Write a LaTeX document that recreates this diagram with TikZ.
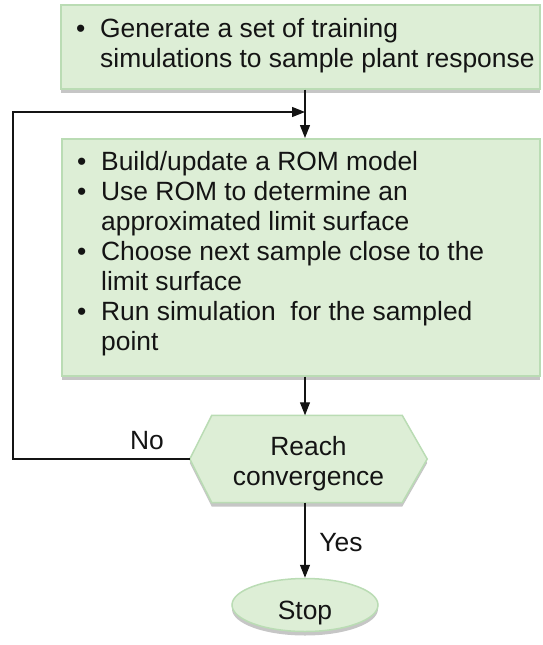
\documentclass[tikz,border=0pt]{standalone}
\usepackage{fontspec}
\setmainfont{Liberation Sans}
\usetikzlibrary{arrows.meta,shapes.geometric,shadows}
\definecolor{boxfill}{RGB}{221,238,214}
\definecolor{boxline}{RGB}{186,220,180}
\definecolor{ink}{RGB}{20,20,20}
\tikzset{
  greenbox/.style={draw=boxline, line width=1.5pt, fill=boxfill,
    drop shadow={shadow xshift=0pt, shadow yshift=-4pt, opacity=0.45}},
  txt/.style={inner sep=0pt, text=ink, font=\fontsize{26.4}{30}\selectfont},
  conn/.style={line width=1.2pt, draw=ink, -{Triangle[length=13pt,width=10pt]}},
  plain/.style={line width=1.2pt, draw=ink},
}
\newcommand{\bul}{\makebox[24pt][l]{\textbullet}}
\begin{document}
\begin{tikzpicture}[x=1pt,y=-1pt]
\useasboundingbox (0,0) rectangle (543,645);
% box 1
\node[greenbox, rectangle, anchor=north west, minimum width=479pt, minimum height=84pt, inner sep=0pt] (box1) at (60,4) {};
\node[txt, anchor=base west] (t1) at (76,37) {\begin{tabular}[t]{@{}l@{}l@{}}
\bul & Generate a set of training\\
 & simulations to sample plant response
\end{tabular}};
% box 2
\node[greenbox, rectangle, anchor=north west, minimum width=478pt, minimum height=237pt, inner sep=0pt] (box2) at (61,138) {};
\node[txt, anchor=base west] (t2) at (77,170) {\begin{tabular}[t]{@{}l@{}l@{}}
\bul & Build/update a ROM model\\
\bul & Use ROM to determine an\\
 & approximated limit surface\\
\bul & Choose next sample close to the\\
 & limit surface\\
\bul & Run simulation\ \ for the sampled\\
 & point
\end{tabular}};
% decision
\node[rectangle, minimum width=237pt, minimum height=87pt, inner sep=0pt] (conv) at (308.5,459) {};
\path[greenbox] (conv.west) -- ([xshift=22pt]conv.north west) -- ([xshift=-25pt]conv.north east)
  -- (conv.east) -- ([xshift=-25pt]conv.south east) -- ([xshift=22pt]conv.south west) -- cycle;
\node[txt, align=center] (convt) at (308.5,464) {Reach\\convergence};
% stop
\node[greenbox, ellipse, minimum width=146pt, minimum height=53pt, inner sep=0pt] (stop) at (305,605) {};
\node[txt] (stopt) at (305,613) {Stop};
% connectors
\coordinate (merge) at (305,112);
\coordinate (corner) at (13,459);
\draw[plain] (box1.south -| merge) -- (merge);
\draw[conn] (merge) -- (box2.north -| merge);
\draw[conn] (conv.west) -- (corner) |- (merge);
\draw[conn] (box2.south -| merge) -- (conv.north -| merge);
\draw[conn] (conv.south -| merge) -- (stop.north);
% labels
\node[txt] (no) at (147,441) {No};
\node[txt] (yes) at (341,543) {Yes};
\end{tikzpicture}
\end{document}
